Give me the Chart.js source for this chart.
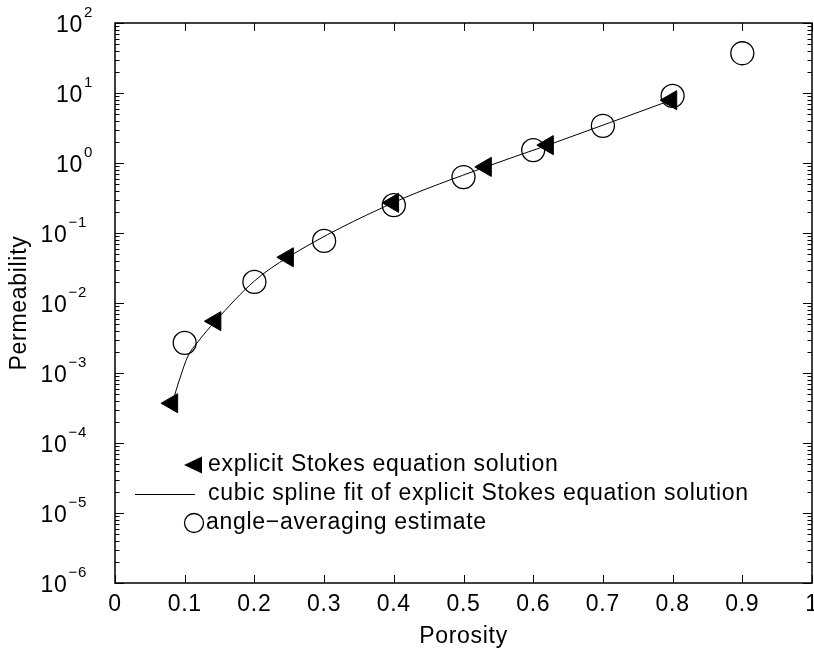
<!DOCTYPE html>
<html>
<head>
<meta charset="utf-8">
<title>Permeability vs Porosity</title>
<script src="https://cdn.jsdelivr.net/npm/chart.js@4/dist/chart.umd.min.js"></script>
<style>
  html, body { margin: 0; padding: 0; background: #fff; overflow: hidden; }
  #wrap { width: 830px; height: 650px; }
</style>
</head>
<body>
<div id="wrap"><canvas id="chart" width="830" height="650"></canvas></div>
<script>
// Explicit Stokes equation solution (filled left-pointing triangles)
const stokesPorosity = [0.082, 0.144, 0.248, 0.399, 0.532, 0.621, 0.798];
const stokesPerm     = [3.7e-4, 5.5e-3, 0.045, 0.27, 0.88, 1.8, 7.9];

// Cubic spline fit, sampled along the fitted curve
const splinePorosity = [0.082, 0.0933, 0.1047, 0.1176, 0.144, 0.2, 0.248, 0.399, 0.532, 0.621, 0.798];
const splinePerm     = [3.7e-4, 8.5e-4, 1.75e-3, 2.68e-3, 5.5e-3, 0.0206, 0.045, 0.27, 0.88, 1.8, 7.9];

// Angle-averaging estimate (open circles)
const avgPorosity = [0.1, 0.2, 0.3, 0.4, 0.5, 0.6, 0.7, 0.8, 0.9];
const avgPerm     = [2.7e-3, 0.020, 0.077, 0.25, 0.63, 1.53, 3.4, 9.1, 37];

// Axis ticks
const porosityTicks = [0, 0.1, 0.2, 0.3, 0.4, 0.5, 0.6, 0.7, 0.8, 0.9, 1];
const permExponents = [-6, -5, -4, -3, -2, -1, 0, 1, 2];

// Legend entries
const seriesLabels = [
  'explicit Stokes equation solution',
  'cubic spline fit of explicit Stokes equation solution',
  'angle\u2212averaging estimate'
];

const FONT = '"Liberation Sans", Arial, Helvetica, sans-serif';
const FS = 23;
const SPACING = '0.7px';

const toPoints = (xs, ys) => xs.map((v, i) => ({ x: v, y: ys[i] }));

// Wider letter spacing for all canvas text
const textSpacing = {
  id: 'textSpacing',
  beforeDraw(chart) { chart.ctx.letterSpacing = SPACING; }
};

// Box frame, inward ticks on all four sides, and 10^n labels
const frameAndTicks = {
  id: 'frameAndTicks',
  afterDatasetsDraw(chart) {
    const { ctx, chartArea: a, scales: { x, y } } = chart;
    ctx.save();
    ctx.strokeStyle = '#000';
    ctx.lineWidth = 1;
    ctx.beginPath();
    porosityTicks.forEach(v => {
      const px = Math.round(x.getPixelForValue(v)) + 0.5;
      ctx.moveTo(px, a.bottom); ctx.lineTo(px, a.bottom - 8);
      ctx.moveTo(px, a.top);    ctx.lineTo(px, a.top + 8);
    });
    permExponents.forEach(k => {
      const py = Math.round(y.getPixelForValue(Math.pow(10, k))) + 0.5;
      ctx.moveTo(a.left, py);  ctx.lineTo(a.left + 9, py);
      ctx.moveTo(a.right, py); ctx.lineTo(a.right - 9, py);
      if (k < permExponents[permExponents.length - 1]) {
        for (let m = 2; m <= 9; m++) {
          const pm = Math.round(y.getPixelForValue(m * Math.pow(10, k))) + 0.5;
          ctx.moveTo(a.left, pm);  ctx.lineTo(a.left + 4.5, pm);
          ctx.moveTo(a.right, pm); ctx.lineTo(a.right - 4.5, pm);
        }
      }
    });
    ctx.stroke();

    ctx.lineWidth = 1.5;
    ctx.strokeRect(a.left, a.top, a.right - a.left, a.bottom - a.top);

    // y tick labels: 10 with superscript exponent
    ctx.fillStyle = '#000';
    ctx.letterSpacing = SPACING;
    ctx.textBaseline = 'alphabetic';
    ctx.textAlign = 'left';
    permExponents.forEach(k => {
      const py = y.getPixelForValue(Math.pow(10, k));
      const expText = k < 0 ? '\u2212' + Math.abs(k) : String(k);
      ctx.font = `${FS}px ${FONT}`;
      const baseW = ctx.measureText('10').width;
      ctx.font = `15px ${FONT}`;
      const expW = ctx.measureText(expText).width;
      const right = a.left - (k < 0 ? 28 : 22);
      const startX = right - expW - baseW - 1;
      ctx.font = `${FS}px ${FONT}`;
      ctx.fillText('10', startX, py + 8.5);
      ctx.font = `15px ${FONT}`;
      ctx.fillText(expText, startX + baseW + 1, py - 6);
    });
    ctx.restore();
  }
};

// Legend drawn inside the lower-left of the plot area
const insideLegend = {
  id: 'insideLegend',
  afterDraw(chart) {
    const { ctx, chartArea: a } = chart;
    const labels = chart.data.datasets.map(d => d.label);
    const textX = a.left + 93;
    const rows = [a.top + 442, a.top + 471, a.top + 500];
    ctx.save();
    ctx.letterSpacing = SPACING;
    ctx.fillStyle = '#000';
    ctx.strokeStyle = '#000';
    ctx.font = `${FS}px ${FONT}`;
    ctx.textBaseline = 'middle';
    ctx.textAlign = 'left';

    // triangle marker
    let ry = rows[0];
    ctx.beginPath();
    ctx.moveTo(a.left + 69, ry);
    ctx.lineTo(a.left + 87, ry - 8.5);
    ctx.lineTo(a.left + 87, ry + 8.5);
    ctx.closePath();
    ctx.fill();
    ctx.fillText(labels[0], textX, ry);

    // line sample
    ry = rows[1];
    ctx.lineWidth = 1;
    ctx.beginPath();
    ctx.moveTo(a.left + 20, Math.round(ry) + 0.5);
    ctx.lineTo(a.left + 80, Math.round(ry) + 0.5);
    ctx.stroke();
    ctx.fillText(labels[1], textX, ry);

    // circle marker
    ry = rows[2];
    ctx.lineWidth = 1.3;
    ctx.beginPath();
    ctx.arc(a.left + 79, ry, 9.5, 0, Math.PI * 2);
    ctx.stroke();
    ctx.fillText(labels[2], textX - 2, ry);
    ctx.restore();
  }
};

new Chart(document.getElementById('chart'), {
  type: 'scatter',
  data: {
    datasets: [
      {
        label: seriesLabels[0],
        data: toPoints(stokesPorosity, stokesPerm),
        pointStyle: 'triangle',
        rotation: -90,
        pointRadius: 11,
        backgroundColor: '#000',
        borderColor: '#000',
        borderWidth: 1,
        showLine: false,
        order: 1
      },
      {
        label: seriesLabels[1],
        data: toPoints(splinePorosity, splinePerm),
        showLine: true,
        cubicInterpolationMode: 'monotone',
        pointRadius: 0,
        borderColor: '#000',
        borderWidth: 1,
        fill: false,
        order: 2
      },
      {
        label: seriesLabels[2],
        data: toPoints(avgPorosity, avgPerm),
        pointStyle: 'circle',
        pointRadius: 11.5,
        backgroundColor: 'rgba(0,0,0,0)',
        borderColor: '#000',
        borderWidth: 1.3,
        showLine: false,
        order: 0
      }
    ]
  },
  options: {
    responsive: false,
    animation: false,
    events: [],
    layout: { padding: { top: 23, right: 18, bottom: 0, left: 0 } },
    plugins: {
      legend: { display: false },
      tooltip: { enabled: false }
    },
    scales: {
      x: {
        type: 'linear',
        min: 0,
        max: 1,
        afterBuildTicks: scale => { scale.ticks = porosityTicks.map(v => ({ value: v })); },
        afterFit: scale => { scale.height = 67; },
        grid: { display: false, drawTicks: false },
        border: { display: false },
        ticks: {
          autoSkip: false,
          maxRotation: 0,
          padding: 8,
          color: '#000',
          font: { family: FONT, size: FS },
          callback: v => Number(v.toFixed(1)).toString()
        },
        title: {
          display: true,
          text: 'Porosity',
          color: '#000',
          font: { family: FONT, size: FS, lineHeight: 1 },
          padding: { top: 0, bottom: 1.5 }
        }
      },
      y: {
        type: 'logarithmic',
        min: 1e-6,
        max: 1e2,
        afterFit: scale => { scale.width = 115; },
        grid: { display: false, drawTicks: false },
        border: { display: false },
        ticks: { display: false },
        title: {
          display: true,
          text: 'Permeability',
          color: '#000',
          font: { family: FONT, size: FS, lineHeight: 1 },
          padding: { top: 8.5, bottom: 0 }
        }
      }
    }
  },
  plugins: [textSpacing, frameAndTicks, insideLegend]
});
</script>
</body>
</html>
